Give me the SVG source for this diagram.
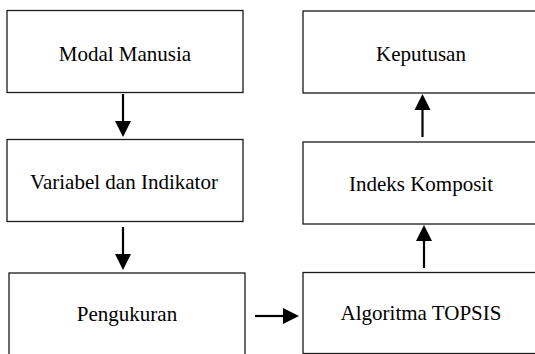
<svg xmlns="http://www.w3.org/2000/svg" width="535" height="354" viewBox="0 0 535 354">
<style>
.box{fill:#fff;stroke:#1a1a1a;stroke-width:1.3}
.lbl{font-family:'Liberation Serif','Times New Roman',Times,serif;font-size:21px;fill:#000;text-anchor:middle}
.conn{stroke:#000;stroke-width:2.2;fill:none}
.head{fill:#000}
</style>
<rect width="535" height="354" fill="#fff"/>
<g id="modal-manusia"><rect class="box" x="7" y="10.5" width="236" height="82"/><text class="lbl" x="125" y="61">Modal Manusia</text></g>
<g id="variabel"><rect class="box" x="7" y="139.5" width="236" height="82"/><text class="lbl" x="124" y="189">Variabel dan Indikator</text></g>
<g id="pengukuran"><rect class="box" x="9" y="273" width="236" height="86"/><text class="lbl" x="127" y="321">Pengukuran</text></g>
<g id="topsis"><rect class="box" x="303" y="272.5" width="238" height="81"/><text class="lbl" x="421" y="320">Algoritma TOPSIS</text></g>
<g id="indeks"><rect class="box" x="303" y="142" width="238" height="82"/><text class="lbl" x="421" y="191">Indeks Komposit</text></g>
<g id="keputusan"><rect class="box" x="303" y="11" width="238" height="82"/><text class="lbl" x="421" y="61">Keputusan</text></g>
<g id="connectors">
<line class="conn" x1="123" y1="94" x2="123" y2="123"/><polygon class="head" points="115,121 131,121 123,137"/>
<line class="conn" x1="123" y1="227" x2="123" y2="256"/><polygon class="head" points="115,254 131,254 123,270"/>
<line class="conn" x1="255" y1="316" x2="285" y2="316"/><polygon class="head" points="283,308 283,324 299,316"/>
<line class="conn" x1="424" y1="268" x2="424" y2="239"/><polygon class="head" points="416,241 432,241 424,225"/>
<line class="conn" x1="422.5" y1="137" x2="422.5" y2="108"/><polygon class="head" points="414.5,110 430.5,110 422.5,94"/>
</g>
</svg>
